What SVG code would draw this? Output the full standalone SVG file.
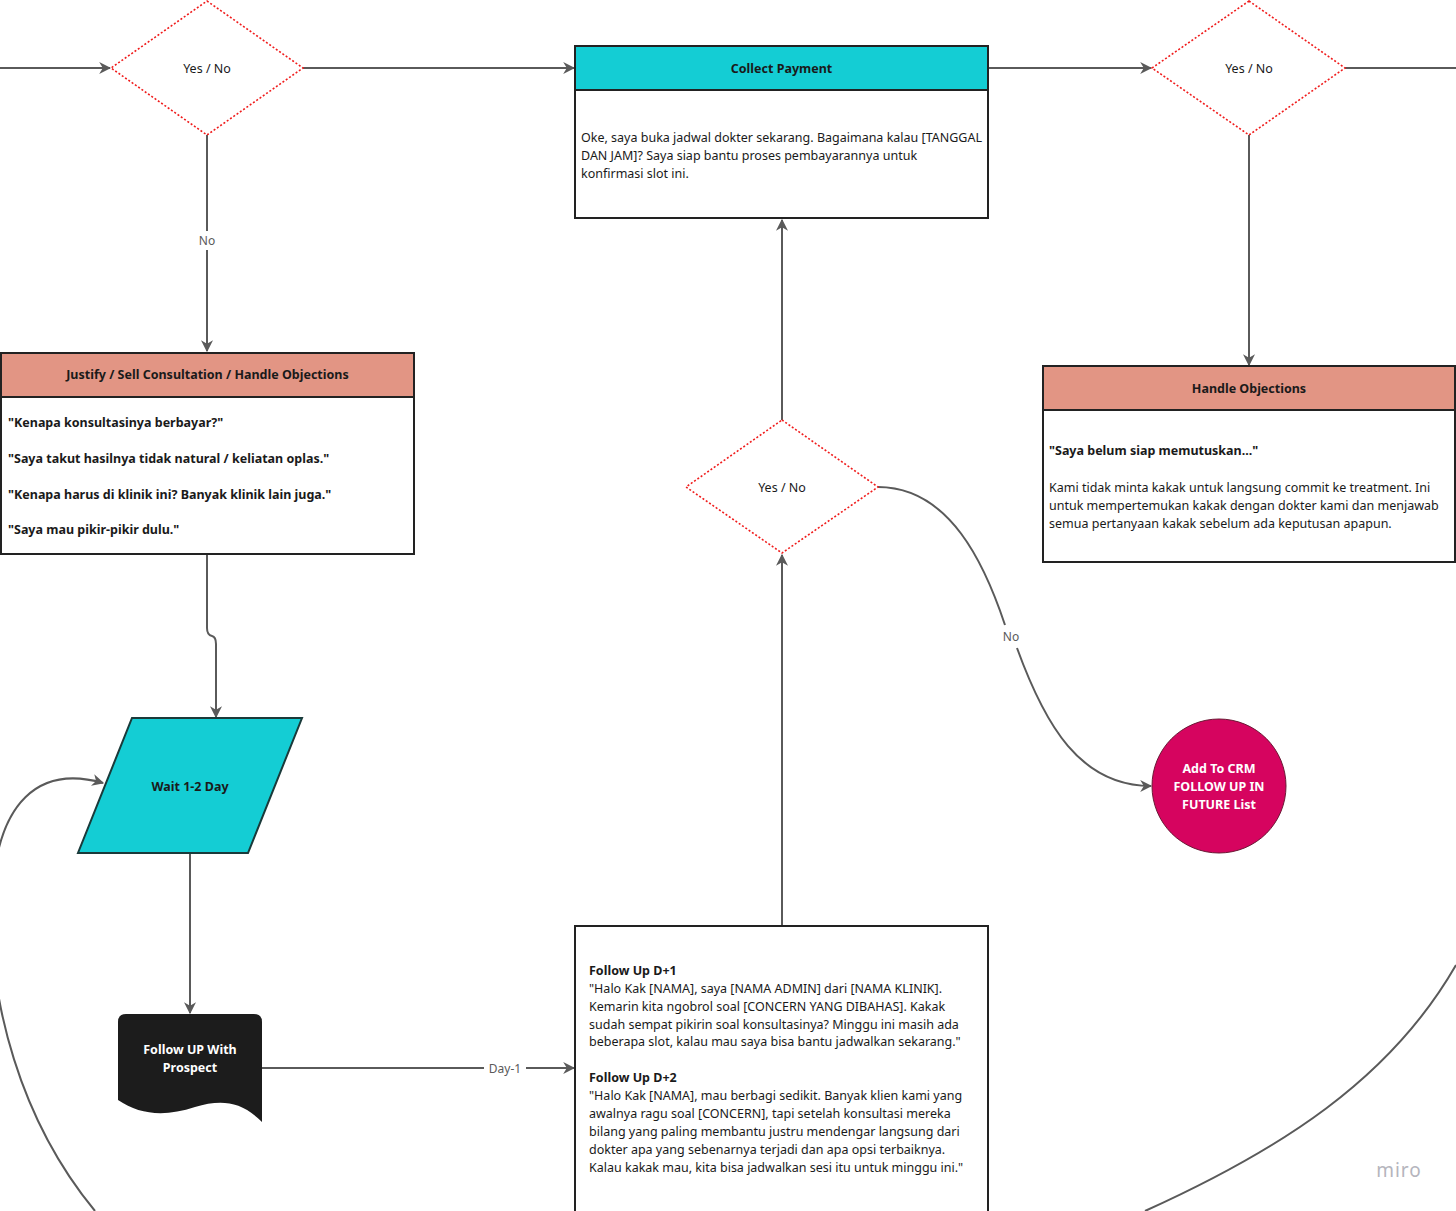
<svg xmlns="http://www.w3.org/2000/svg" width="1456" height="1211" viewBox="0 0 1456 1211">
<defs>
<marker id="arr" viewBox="0 0 10 10" refX="9" refY="5" markerWidth="12" markerHeight="12" orient="auto-start-reverse" markerUnits="userSpaceOnUse">
<path d="M0,0 L10,5 L0,10 L3,5 Z" fill="#5a5a5a"/>
</marker>
</defs>
<style>
text{font-family:"Noto Sans","Open Sans","DejaVu Sans",sans-serif;fill:#1a1a1a}
.c{fill:none;stroke:#5a5a5a;stroke-width:2}
.cl{font-size:12px;fill:#5a5a5a;text-anchor:middle}
.dia{fill:#fff;stroke:#f01c1c;stroke-width:1.6;stroke-dasharray:2 2}
.dt{font-size:12.5px;text-anchor:middle}
.box{fill:#fff;stroke:#222;stroke-width:2}
.hd{stroke:#222;stroke-width:2}
.ht{font-size:12.5px;font-weight:bold;text-anchor:middle}
.bt{font-size:12.5px}
.bb{font-size:12.5px;font-weight:bold}
</style>
<rect width="1456" height="1211" fill="#fff"/>
<g id="connectors">
<line class="c" x1="0" y1="68" x2="110" y2="68" marker-end="url(#arr)"/>
<line class="c" x1="303" y1="68" x2="574" y2="68" marker-end="url(#arr)"/>
<line class="c" x1="988" y1="68" x2="1151" y2="68" marker-end="url(#arr)"/>
<line class="c" x1="1345" y1="68" x2="1456" y2="68"/>
<line class="c" x1="1249" y1="135" x2="1249" y2="365" marker-end="url(#arr)"/>
<line class="c" x1="207" y1="135" x2="207" y2="231"/>
<line class="c" x1="207" y1="250" x2="207" y2="351" marker-end="url(#arr)"/>
<text class="cl" x="207" y="245">No</text>
<path class="c" d="M207,554 L207,628 Q207,635 212,636 Q216,637 216,644 L216,717" marker-end="url(#arr)"/>
<line class="c" x1="190" y1="853" x2="190" y2="1013" marker-end="url(#arr)"/>
<line class="c" x1="262" y1="1068" x2="484" y2="1068"/>
<line class="c" x1="526" y1="1068" x2="574" y2="1068" marker-end="url(#arr)"/>
<text class="cl" x="505" y="1073">Day-1</text>
<line class="c" x1="782" y1="926" x2="782" y2="555" marker-end="url(#arr)"/>
<line class="c" x1="782" y1="420" x2="782" y2="220" marker-end="url(#arr)"/>
<path class="c" d="M878,487 C950,487 985,565 1005,625"/>
<path class="c" d="M1017,648 C1045,725 1080,786 1151,786" marker-end="url(#arr)"/>
<text class="cl" x="1011" y="641">No</text>
<path class="c" d="M95,1211 C20,1120 -12,1000 -8,900 C-4,800 40,765 103,783" marker-end="url(#arr)"/>
<path class="c" d="M1456,965 C1390,1080 1280,1150 1145,1211"/>
</g>
<g id="decision1">
<polygon class="dia" points="207,1 303,68 207,135 111,68"/>
<text class="dt" x="207" y="72.5">Yes / No</text>
</g>
<g id="collect-payment">
<rect class="box" x="575" y="46" width="413" height="172"/>
<rect class="hd" x="575" y="46" width="413" height="44" fill="#14CDD4"/>
<text class="ht" x="781.5" y="72.5">Collect Payment</text>
<text class="bt" x="581" y="142">Oke, saya buka jadwal dokter sekarang. Bagaimana kalau [TANGGAL</text>
<text class="bt" x="581" y="160">DAN JAM]? Saya siap bantu proses pembayarannya untuk</text>
<text class="bt" x="581" y="178">konfirmasi slot ini.</text>
</g>
<g id="decision3">
<polygon class="dia" points="1249,1 1345,68 1249,135 1152,68"/>
<text class="dt" x="1249" y="72.5">Yes / No</text>
</g>
<g id="handle-objections">
<rect class="box" x="1043" y="366" width="412" height="196"/>
<rect class="hd" x="1043" y="366" width="412" height="44" fill="#E29584"/>
<text class="ht" x="1249" y="393">Handle Objections</text>
<text class="bb" x="1049" y="455">"Saya belum siap memutuskan..."</text>
<text class="bt" x="1049" y="492">Kami tidak minta kakak untuk langsung commit ke treatment. Ini</text>
<text class="bt" x="1049" y="510">untuk mempertemukan kakak dengan dokter kami dan menjawab</text>
<text class="bt" x="1049" y="528">semua pertanyaan kakak sebelum ada keputusan apapun.</text>
</g>
<g id="justify">
<rect class="box" x="1" y="353" width="413" height="201"/>
<rect class="hd" x="1" y="353" width="413" height="44" fill="#E29584"/>
<text class="ht" x="207.5" y="379">Justify / Sell Consultation / Handle Objections</text>
<text class="bb" x="8" y="427">"Kenapa konsultasinya berbayar?"</text>
<text class="bb" x="8" y="463">"Saya takut hasilnya tidak natural / keliatan oplas."</text>
<text class="bb" x="8" y="499">"Kenapa harus di klinik ini? Banyak klinik lain juga."</text>
<text class="bb" x="8" y="534">"Saya mau pikir-pikir dulu."</text>
</g>
<g id="decision2">
<polygon class="dia" points="782,420 878,487 782,553 686,487"/>
<text class="dt" x="782" y="491.5">Yes / No</text>
</g>
<g id="crm">
<circle cx="1219" cy="786" r="67" fill="#D6045F" stroke="#6a1a35" stroke-width="1"/>
<text x="1219" y="772.5" font-size="12.5" font-weight="bold" text-anchor="middle" style="fill:#fff">Add To CRM</text>
<text x="1219" y="790.5" font-size="12.5" font-weight="bold" text-anchor="middle" style="fill:#fff">FOLLOW UP IN</text>
<text x="1219" y="808.5" font-size="12.5" font-weight="bold" text-anchor="middle" style="fill:#fff">FUTURE List</text>
</g>
<g id="wait">
<polygon points="132,718 302,718 248,853 78,853" fill="#14CDD4" stroke="#1a3a3a" stroke-width="2"/>
<text class="ht" x="190" y="791">Wait 1-2 Day</text>
</g>
<g id="follow-up-prospect">
<path d="M118,1022 Q118,1014 126,1014 L254,1014 Q262,1014 262,1022 L262,1122 C240,1100 220,1100 195,1107 C165,1117 140,1115 118,1100 Z" fill="#1c1c1c"/>
<text x="190" y="1054" font-size="12.5" font-weight="bold" text-anchor="middle" style="fill:#fff">Follow UP With</text>
<text x="190" y="1072" font-size="12.5" font-weight="bold" text-anchor="middle" style="fill:#fff">Prospect</text>
</g>
<g id="follow-up-messages">
<rect class="box" x="575" y="926" width="413" height="290"/>
<text class="bb" x="589" y="975">Follow Up D+1</text>
<text class="bt" x="589" y="993">"Halo Kak [NAMA], saya [NAMA ADMIN] dari [NAMA KLINIK].</text>
<text class="bt" x="589" y="1011">Kemarin kita ngobrol soal [CONCERN YANG DIBAHAS]. Kakak</text>
<text class="bt" x="589" y="1029">sudah sempat pikirin soal konsultasinya? Minggu ini masih ada</text>
<text class="bt" x="589" y="1046">beberapa slot, kalau mau saya bisa bantu jadwalkan sekarang."</text>
<text class="bb" x="589" y="1082">Follow Up D+2</text>
<text class="bt" x="589" y="1100">"Halo Kak [NAMA], mau berbagi sedikit. Banyak klien kami yang</text>
<text class="bt" x="589" y="1118">awalnya ragu soal [CONCERN], tapi setelah konsultasi mereka</text>
<text class="bt" x="589" y="1136">bilang yang paling membantu justru mendengar langsung dari</text>
<text class="bt" x="589" y="1154">dokter apa yang sebenarnya terjadi dan apa opsi terbaiknya.</text>
<text class="bt" x="589" y="1172">Kalau kakak mau, kita bisa jadwalkan sesi itu untuk minggu ini."</text>
</g>
<text x="1399" y="1177" font-size="19" text-anchor="middle" style="fill:#b5b5bd;letter-spacing:1px">miro</text>
</svg>
